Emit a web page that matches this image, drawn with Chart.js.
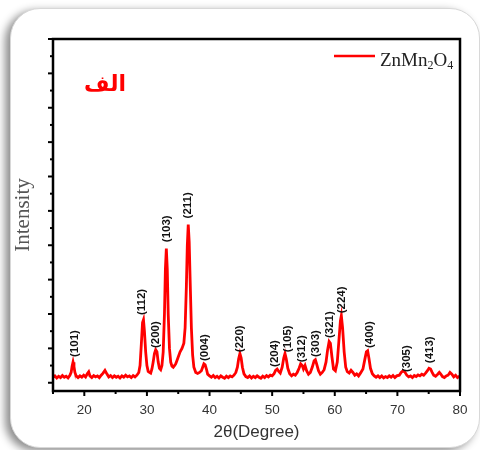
<!DOCTYPE html>
<html>
<head>
<meta charset="utf-8">
<script src="https://cdn.jsdelivr.net/npm/chart.js@4.4.1/dist/chart.umd.min.js"></script>
<style>
    html, body { margin: 0; padding: 0; background: #fff; }
    #wrap { position: relative; width: 480px; height: 450px; overflow: hidden; }
    #card {
        position: absolute; left: 10px; top: 8px; width: 468px; height: 438px;
        background: #fff; border: 1px solid #d8d8d8; border-radius: 30px;
        box-shadow: -5px 3px 8px rgba(0,0,0,0.45);
    }
    #chart { position: absolute; left: 0; top: 0; }
</style>
</head>
<body>
<div id="wrap">
    <div id="card"></div>
    <canvas id="chart" width="480" height="450"></canvas>
</div>
<script>
// XRD pattern of ZnMn2O4
const twoTheta = [
    15.0, 15.3, 15.6, 15.9, 16.2, 16.5, 16.8, 17.1, 17.4, 17.7,
    17.9, 18.05, 18.2, 18.35, 18.5, 18.7,
    19.0, 19.3, 19.6, 19.9, 20.2, 20.5, 20.7, 20.9, 21.2, 21.5, 21.8, 22.1, 22.4, 22.7, 23.0, 23.3, 23.6,
    23.9, 24.2, 24.5, 24.8, 25.1, 25.4, 25.7, 26.0, 26.3, 26.6, 26.9, 27.2, 27.5, 27.8, 28.1, 28.4, 28.7,
    28.9, 29.1, 29.3, 29.45, 29.6, 29.8, 30.0, 30.2, 30.4, 30.6, 30.8,
    31.0, 31.2, 31.4, 31.6, 31.8, 32.0, 32.2, 32.4,
    32.6, 32.8, 32.95, 33.1, 33.25, 33.4, 33.6, 33.8, 34.0, 34.2, 34.4, 34.6, 34.8, 35.0, 35.3, 35.6, 35.9,
    36.1, 36.3, 36.45, 36.6, 36.75, 36.9, 37.1, 37.3, 37.5, 37.8, 38.1, 38.4, 38.7,
    38.9, 39.1, 39.3, 39.5, 39.7,
    40.0, 40.3, 40.6, 40.9, 41.2, 41.5, 41.8, 42.1, 42.4, 42.7, 43.0, 43.3, 43.6, 43.9, 44.2,
    44.45, 44.65, 44.85, 45.05, 45.25, 45.5, 45.8, 46.1, 46.4, 46.7, 47.0, 47.3, 47.6, 47.9, 48.2, 48.5, 48.8, 49.1, 49.4, 49.7,
    50.0, 50.3, 50.55, 50.8, 51.05, 51.3,
    51.6, 51.85, 52.05, 52.25, 52.5, 52.8, 53.1, 53.4, 53.7, 54.0,
    54.3, 54.55, 54.8, 55.0, 55.25, 55.5, 55.8, 56.1,
    56.4, 56.7, 56.9, 57.1, 57.4, 57.7, 58.0, 58.3,
    58.6, 58.85, 59.1, 59.3, 59.55, 59.8, 60.1,
    60.4, 60.65, 60.9, 61.05, 61.25, 61.5, 61.75, 62.0, 62.3, 62.6, 62.9, 63.2, 63.5, 63.8, 64.1,
    64.5, 64.8, 65.05, 65.25, 65.45, 65.7, 66.0, 66.3, 66.6, 66.9, 67.2, 67.5, 67.8, 68.1, 68.4, 68.7, 69.0, 69.3, 69.6, 69.9,
    70.3, 70.6, 70.9, 71.2, 71.5, 71.8, 72.1, 72.4, 72.7, 73.0, 73.3, 73.6, 73.9, 74.2, 74.5,
    74.8, 75.05, 75.3, 75.55, 75.8, 76.1, 76.4, 76.7, 76.9, 77.2, 77.5, 77.8, 78.1, 78.4, 78.7, 79.0, 79.3, 79.6, 80.0
];
const intensity = [
    0.16, 0.2, 0.14, 0.19, 0.15, 0.21, 0.16, 0.19, 0.14, 0.22,
    0.3, 0.48, 0.6, 0.47, 0.3, 0.2,
    0.15, 0.2, 0.16, 0.22, 0.17, 0.27, 0.32, 0.2, 0.15, 0.21, 0.17, 0.2, 0.15, 0.22, 0.28, 0.36, 0.26,
    0.17, 0.21, 0.15, 0.2, 0.16, 0.19, 0.14, 0.2, 0.16, 0.22, 0.17, 0.2, 0.15, 0.21, 0.17, 0.22, 0.3,
    0.5, 1.1, 1.75, 1.83, 1.5, 0.9, 0.5, 0.33, 0.3, 0.28, 0.4,
    0.6, 0.85, 0.96, 0.9, 0.6, 0.42, 0.38, 0.5,
    0.9, 2.0, 3.3, 3.9, 3.3, 2.0, 1.0, 0.6, 0.48, 0.45, 0.5, 0.55, 0.65, 0.75, 0.9, 1.0, 1.15,
    1.6, 2.8, 4.0, 4.6, 4.1, 3.0, 1.6, 0.8, 0.45, 0.3, 0.27, 0.3, 0.35,
    0.45, 0.55, 0.52, 0.4, 0.25,
    0.2, 0.16, 0.21, 0.15, 0.19, 0.14, 0.2, 0.16, 0.13, 0.19, 0.15, 0.2, 0.17, 0.22, 0.3,
    0.45, 0.7, 0.85, 0.72, 0.45, 0.26, 0.18, 0.15, 0.2, 0.14, 0.19, 0.15, 0.2, 0.16, 0.13, 0.19, 0.15, 0.21, 0.17, 0.22,
    0.2, 0.26, 0.36, 0.4, 0.33, 0.28,
    0.45, 0.72, 0.85, 0.7, 0.42, 0.26, 0.2, 0.25, 0.22, 0.3,
    0.42, 0.55, 0.5, 0.4, 0.5, 0.35, 0.25, 0.3,
    0.45, 0.64, 0.67, 0.55, 0.35, 0.25, 0.3, 0.38,
    0.6, 0.95, 1.2, 1.15, 0.75, 0.4, 0.35,
    0.6, 1.2, 1.8, 1.95, 1.6, 0.9, 0.45, 0.32, 0.28, 0.36, 0.3, 0.22, 0.26, 0.2, 0.28,
    0.4, 0.68, 0.9, 0.93, 0.72, 0.42, 0.26, 0.2, 0.16, 0.2, 0.15, 0.2, 0.14, 0.18, 0.15, 0.2, 0.16, 0.21, 0.15, 0.2,
    0.22, 0.3, 0.35, 0.31, 0.22, 0.17, 0.2, 0.15, 0.21, 0.18, 0.23, 0.2, 0.25, 0.22, 0.28,
    0.35, 0.42, 0.4, 0.3, 0.22, 0.19, 0.24, 0.3, 0.26, 0.18, 0.15, 0.2, 0.22, 0.3, 0.25, 0.17, 0.22, 0.15, 0.2
];

// Miller index labels: where they sit (2θ) and the intensity under their lower end
const hklLabels = ['(101)', '(112)', '(200)', '(103)', '(211)', '(004)', '(220)', '(204)',
                   '(105)', '(312)', '(303)', '(321)', '(224)', '(400)', '(305)', '(413)'];
const labelTheta = [18.5, 29.25, 31.5, 33.25, 36.6, 39.3, 44.9, 50.5,
                    52.45, 54.7, 56.9, 59.15, 61.1, 65.55, 71.5, 75.15];
const labelBase = [0.75, 1.97, 1.01, 4.09, 4.78, 0.63, 0.89, 0.46,
                   0.89, 0.6, 0.75, 1.3, 2.02, 1.01, 0.31, 0.57];

const xTickLabels = [20, 30, 40, 50, 60, 70, 80];

if (twoTheta.length !== intensity.length) {
    console.warn('data length mismatch', twoTheta.length, intensity.length);
}

// frame, tick marks, peak labels, legend and panel letter
const decorPlugin = {
    id: 'decor',
    afterDraw(chart) {
        const ctx = chart.ctx;
        const a = chart.chartArea;
        const xs = chart.scales.x;
        const ys = chart.scales.y;
        ctx.save();

        // tick marks (outside)
        ctx.strokeStyle = '#000';
        ctx.lineWidth = 2;
        xs.ticks.forEach(t => {
            const px = xs.getPixelForValue(t.value);
            const len = t.value % 10 === 0 ? 5 : 3;
            ctx.beginPath();
            ctx.moveTo(px, a.bottom);
            ctx.lineTo(px, a.bottom + len);
            ctx.stroke();
        });
        for (let v = 0; v <= 10; v += 0.5) {
            const py = ys.getPixelForValue(v);
            const len = v % 1 === 0 ? 5 : 3;
            ctx.beginPath();
            ctx.moveTo(a.left, py);
            ctx.lineTo(a.left - len, py);
            ctx.stroke();
        }

        // frame
        ctx.lineWidth = 2.5;
        ctx.strokeRect(a.left, a.top, a.right - a.left, a.bottom - a.top);

        // peak labels, rotated
        ctx.fillStyle = '#111';
        ctx.font = 'bold 11.5px "Liberation Sans", Arial, sans-serif';
        ctx.textAlign = 'left';
        ctx.textBaseline = 'middle';
        hklLabels.forEach((lab, i) => {
            const px = xs.getPixelForValue(labelTheta[i]);
            const py = ys.getPixelForValue(labelBase[i]);
            ctx.save();
            ctx.translate(px, py);
            ctx.rotate(-Math.PI / 2);
            ctx.fillText(lab, 0, 0);
            ctx.restore();
        });

        // legend
        ctx.strokeStyle = '#ff0000';
        ctx.lineWidth = 2.5;
        ctx.beginPath();
        ctx.moveTo(334, 56);
        ctx.lineTo(375, 56);
        ctx.stroke();
        ctx.fillStyle = '#222';
        ctx.textBaseline = 'alphabetic';
        const parts = [['Zn', 0], ['Mn', 0], ['2', 1], ['O', 0], ['4', 1]];
        let tx = 380;
        parts.forEach(([s, sub]) => {
            ctx.font = (sub ? '12px' : '19px') + ' "Liberation Serif", "Times New Roman", serif';
            ctx.fillText(s, tx, sub ? 69 : 66);
            tx += ctx.measureText(s).width;
        });

        // panel letter
        ctx.fillStyle = '#ff0000';
        ctx.font = 'bold 22px "DejaVu Sans", sans-serif';
        ctx.textAlign = 'center';
        ctx.fillText('الف', 105, 91);

        ctx.restore();
    }
};

new Chart(document.getElementById('chart'), {
    type: 'line',
    data: {
        datasets: [{
            label: 'ZnMn2O4',
            data: twoTheta.map((t, i) => ({ x: t, y: intensity[i] })),
            borderColor: '#ff0000',
            borderWidth: 2.8,
            pointRadius: 0,
            tension: 0,
            fill: false
        }]
    },
    options: {
        responsive: false,
        animation: false,
        layout: { padding: { left: 10, top: 39, right: 20, bottom: 7 } },
        plugins: {
            legend: { display: false },
            tooltip: { enabled: false }
        },
        scales: {
            x: {
                type: 'linear',
                min: 15,
                max: 80,
                border: { display: false },
                grid: { drawOnChartArea: false, drawTicks: false, tickLength: 0 },
                afterFit: s => { s.height = 52; },
                ticks: {
                    stepSize: 5,
                    autoSkip: false,
                    maxRotation: 0,
                    padding: 11,
                    color: '#333',
                    font: { family: '"Liberation Sans", Arial, sans-serif', size: 13.5 },
                    callback: v => xTickLabels.includes(v) ? String(v) : ''
                },
                title: {
                    display: true,
                    text: '2θ(Degree)',
                    color: '#333',
                    padding: { top: 4, bottom: 0 },
                    font: { family: '"Liberation Sans", Arial, sans-serif', size: 17 }
                }
            },
            y: {
                min: -0.24,
                max: 10,
                border: { display: false },
                grid: { drawOnChartArea: false, drawTicks: false, tickLength: 0 },
                afterFit: s => { s.width = 43; },
                ticks: { display: false },
                title: {
                    display: true,
                    text: 'Intensity',
                    color: '#555',
                    padding: { top: 3, bottom: 19 },
                    font: { family: '"Liberation Serif", "Times New Roman", serif', size: 21, lineHeight: 1 }
                }
            }
        }
    },
    plugins: [decorPlugin]
});
</script>
</body>
</html>
